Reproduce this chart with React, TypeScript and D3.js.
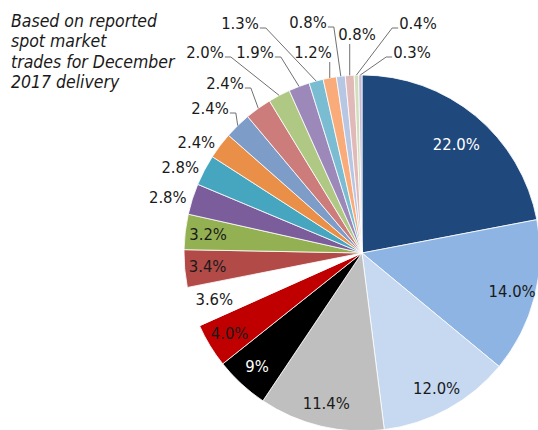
import { useEffect, useRef } from "react";
import * as d3 from "d3";

// slice values (the black "9%" slice is really ~4.9% of the circle)
const labels = ["22.0%", "14.0%", "12.0%", "11.4%", "9%", "4.0%", "3.6%", "3.4%", "3.2%", "2.8%", "2.8%", "2.4%", "2.4%", "2.4%", "2.0%", "1.9%", "1.3%", "1.2%", "0.8%", "0.8%", "0.4%", "0.3%"];
const shares = [22, 14, 12, 11.4, 4.9, 4.0, 3.6, 3.4, 3.2, 2.8, 2.8, 2.4, 2.4, 2.4, 2.0, 1.9, 1.3, 1.2, 0.8, 0.8, 0.4, 0.3];
const colors = ["#1F497D", "#8DB4E2", "#C6D9F1", "#BFBFBF", "#000000", "#C00000", "#FFFFFF", "#B24A47", "#93B152", "#7B5D9B", "#47A6BF", "#E98F47", "#7E9CC8", "#CB7C7B", "#AFC884", "#9D89B9", "#7ABDD3", "#F9AB79", "#B6C6E3", "#E2B9B9", "#D2DFBA", "#C6BAD7"];
const note = ["Based on reported", "spot market", "trades for December", "2017 delivery"];

// hand-placed callout labels (text centre) for the crowded top slices
const callouts = {
  12: { x: 210, y: 108, side: "right" },
  13: { x: 225, y: 83, side: "right" },
  14: { x: 205, y: 52, side: "right" },
  15: { x: 255, y: 52, side: "right" },
  16: { x: 240, y: 23, side: "right" },
  17: { x: 313, y: 52, side: "below" },
  18: { x: 308, y: 22, side: "right" },
  19: { x: 357, y: 34, side: "below" },
  20: { x: 418, y: 23, side: "left" },
  21: { x: 412, y: 52, side: "left" },
};

const W = 538;
const H = 430;
const FONT = "'DejaVu Sans Condensed', 'DejaVu Sans', sans-serif";

export default function App() {
  const ref = useRef(null);

  useEffect(() => {
    draw();
  }, []);

  function draw() {
    const svg = d3.select(ref.current);
    svg.selectAll("*").remove();

    const cx = 362, cy = 253, r = 178;
    const g = svg.append("g").attr("transform", `translate(${cx},${cy})`);

    const pie = d3.pie().sort(null).value((d) => d);
    const arcs = pie(shares);
    const arc = d3.arc().innerRadius(0).outerRadius(r);

    g.selectAll("path")
      .data(arcs)
      .enter()
      .append("path")
      .attr("d", arc)
      .attr("fill", (d, i) => colors[i])
      .attr("stroke", "#fff")
      .attr("stroke-width", 0.8);

    const mid = (d) => (d.startAngle + d.endAngle) / 2;
    const polar = (a, rad) => [rad * Math.sin(a), -rad * Math.cos(a)];

    arcs.forEach((d, i) => {
      const a = mid(d);
      if (i <= 8) {
        const [x, y] = polar(a, i === 0 ? 148 : 155);
        g.append("text")
          .attr("x", x)
          .attr("y", y + (i === 0 ? 6 : 0))
          .attr("text-anchor", "middle")
          .attr("dominant-baseline", "central")
          .attr("fill", i === 0 || i === 4 ? "#fff" : "#1a1a1a")
          .style("font-family", FONT)
          .style("font-size", "16.5px")
          .text(labels[i]);
      } else if (!callouts[i]) {
        const [x, y] = polar(a, 184);
        g.append("text")
          .attr("x", x)
          .attr("y", y)
          .attr("text-anchor", "end")
          .attr("dominant-baseline", "central")
          .attr("fill", "#1a1a1a")
          .style("font-family", FONT)
          .style("font-size", "16.5px")
          .text(labels[i]);
      } else {
        const c = callouts[i];
        const t = svg.append("text")
          .attr("x", c.x)
          .attr("y", c.y)
          .attr("text-anchor", "middle")
          .attr("dominant-baseline", "central")
          .attr("fill", "#1a1a1a")
          .style("font-family", FONT)
          .style("font-size", "16.5px")
          .text(labels[i]);
        const w = t.node().getComputedTextLength();
        const [px, py] = polar(a, r);
        const ex = cx + px, ey = cy + py;
        let pts;
        if (c.side === "right") {
          const sx = c.x + w / 2 + 1;
          pts = [[sx, c.y + 5], [sx + 6, c.y + 5], [ex, ey]];
        } else if (c.side === "left") {
          const sx = c.x - w / 2 - 1;
          pts = [[sx, c.y + 5], [sx - 6, c.y + 5], [ex, ey]];
        } else {
          pts = [[ex, c.y + 10], [ex, ey]];
        }
        svg.append("path")
          .attr("d", d3.line()(pts))
          .attr("fill", "none")
          .attr("stroke", "#404040")
          .attr("stroke-width", 0.75);
      }
    });

    svg.append("g")
      .selectAll("text")
      .data(note)
      .enter()
      .append("text")
      .attr("x", 11)
      .attr("y", (d, i) => 27 + i * 20.3)
      .attr("fill", "#1a1a1a")
      .style("font-family", FONT)
      .style("font-style", "italic")
      .style("font-size", "17.5px")
      .text((d) => d);
  }

  return (
    <svg
      ref={ref}
      width={W}
      height={H}
      style={{ position: "absolute", left: 0, top: 0, background: "#fff" }}
    />
  );
}
